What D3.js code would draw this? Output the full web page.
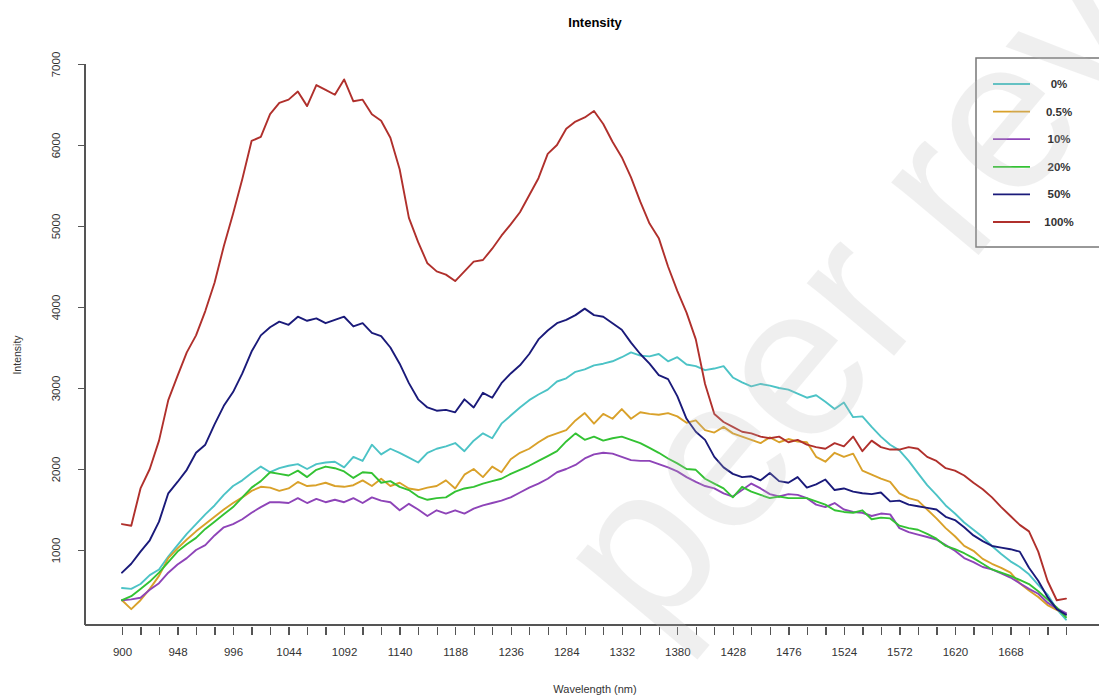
<!DOCTYPE html>
<meta charset="utf-8">
<style>
body { margin: 0; background: #fff; }
text { font-family: "Liberation Sans", Arial, sans-serif; }
.line { fill: none; stroke-width: 1.9; stroke-linejoin: round; stroke-linecap: round; }
.tick line, .frame { stroke: #555; stroke-width: 1.3; shape-rendering: crispEdges; }
</style>
<body>
<div id="chart"></div>
<script src="https://d3js.org/d3.v7.min.js"></script>
<script>
// wavelength grid (nm) and axis ticks
var wavelength = d3.range(900, 1717, 8);
var xTicks = d3.range(900, 1717, 16);
var xLabels = [900, 948, 996, 1044, 1092, 1140, 1188, 1236, 1284, 1332, 1380, 1428, 1476, 1524, 1572, 1620, 1668];
var yTicks = [1000, 2000, 3000, 4000, 5000, 6000, 7000];

var seriesNames = ["0%", "0.5%", "10%", "20%", "50%", "100%"];
var seriesColors = ["#4cc3c6", "#d9a12a", "#8e44b8", "#33c233", "#1a1a7a", "#b0302c"];

// intensity, one value per 8 nm
var s0 = [530,520,580,690,760,920,1060,1200,1320,1440,
  1550,1680,1790,1860,1950,2030,1960,2010,2040,2060,
  2000,2060,2080,2090,2020,2150,2100,2300,2180,2250,
  2200,2140,2080,2200,2250,2280,2320,2220,2350,2440,
  2380,2560,2660,2760,2850,2920,2980,3080,3120,3200,
  3230,3280,3300,3330,3380,3440,3400,3390,3420,3330,
  3380,3290,3270,3220,3240,3270,3130,3070,3020,3050,
  3030,3000,2980,2930,2880,2910,2830,2740,2820,2640,
  2650,2520,2400,2300,2230,2100,1950,1800,1680,1550,
  1450,1340,1250,1160,1050,950,860,790,700,570,
  450,270,140];
var s05 = [380,270,380,520,680,900,1020,1130,1230,1320,
  1410,1500,1580,1650,1730,1780,1770,1730,1760,1840,
  1790,1800,1830,1790,1780,1800,1860,1790,1880,1790,
  1830,1760,1740,1770,1790,1860,1760,1930,2000,1900,
  2030,1960,2120,2200,2250,2330,2400,2440,2480,2600,
  2690,2560,2680,2620,2740,2620,2700,2680,2670,2690,
  2650,2570,2600,2480,2450,2520,2440,2400,2360,2320,
  2390,2330,2370,2340,2330,2150,2090,2200,2150,2190,
  1980,1930,1880,1840,1700,1640,1610,1500,1390,1270,
  1170,1050,990,890,830,780,720,590,500,420,
  320,260,210];
var s10 = [380,390,410,510,590,720,820,900,1000,1060,
  1180,1280,1320,1380,1460,1530,1590,1590,1580,1640,
  1580,1630,1590,1620,1590,1640,1580,1650,1610,1590,
  1490,1570,1500,1420,1490,1450,1490,1450,1510,1550,
  1580,1610,1650,1710,1770,1820,1880,1960,2000,2050,
  2130,2180,2200,2190,2150,2110,2100,2100,2060,2020,
  1970,1900,1840,1790,1760,1700,1660,1740,1820,1760,
  1690,1660,1690,1680,1640,1560,1530,1580,1500,1470,
  1460,1420,1450,1440,1270,1220,1190,1160,1130,1060,
  990,900,850,790,760,710,660,590,520,460,
  350,280,220];
var s20 = [380,430,520,610,720,850,980,1070,1150,1260,
  1350,1440,1530,1650,1770,1850,1960,1940,1920,1980,
  1900,1990,2030,2010,1970,1890,1960,1950,1830,1850,
  1780,1740,1660,1620,1640,1650,1720,1760,1780,1820,
  1850,1880,1940,1990,2040,2100,2160,2220,2340,2440,
  2360,2400,2350,2380,2400,2360,2320,2260,2200,2130,
  2070,2000,1990,1880,1820,1760,1650,1780,1720,1680,
  1640,1660,1640,1640,1640,1600,1560,1490,1470,1460,
  1490,1380,1400,1390,1300,1270,1250,1200,1140,1050,
  1010,960,900,830,760,720,680,630,580,490,
  390,290,170];
var s50 = [720,830,980,1120,1350,1700,1840,1990,2200,2300,
  2550,2780,2950,3180,3450,3650,3750,3820,3780,3880,
  3830,3860,3800,3840,3880,3760,3800,3680,3640,3500,
  3300,3060,2860,2760,2720,2730,2700,2860,2760,2940,
  2880,3060,3180,3280,3420,3600,3710,3800,3840,3900,
  3980,3900,3880,3800,3720,3560,3420,3300,3160,3110,
  2900,2620,2460,2360,2150,2020,1940,1900,1910,1860,
  1950,1850,1830,1900,1770,1810,1870,1740,1760,1720,
  1700,1690,1710,1600,1610,1560,1540,1520,1500,1410,
  1370,1280,1180,1110,1050,1030,1010,980,780,620,
  420,270,200];
var s100 = [1320,1300,1760,2000,2350,2850,3150,3440,3650,3950,
  4300,4750,5150,5580,6050,6100,6380,6520,6560,6660,
  6480,6740,6680,6620,6810,6540,6560,6380,6300,6090,
  5700,5100,4800,4540,4440,4400,4320,4440,4560,4580,
  4720,4880,5020,5170,5380,5590,5890,6000,6200,6290,
  6340,6420,6260,6040,5850,5600,5300,5030,4850,4500,
  4200,3930,3600,3050,2680,2580,2520,2460,2440,2400,
  2380,2400,2330,2360,2300,2270,2250,2320,2280,2400,
  2220,2350,2270,2240,2240,2270,2250,2150,2100,2010,
  1980,1920,1830,1750,1650,1530,1420,1310,1230,980,
  620,380,400];

var series = [s0, s05, s10, s20, s50, s100];

var width = 1099, height = 696;

var svg = d3.select("#chart").append("svg")
    .attr("width", width)
    .attr("height", height);

var x = d3.scaleLinear().domain([900, 1716]).range([122, 1066]);
var y = d3.scaleLinear().domain([0, 7000]).range([631, 64]);
var yBottom = 625;

// frame: left and bottom sides only
svg.append("line").attr("class", "frame")
    .attr("x1", 85).attr("x2", 85)
    .attr("y1", y(7000)).attr("y2", yBottom);
svg.append("line").attr("class", "frame")
    .attr("x1", 85).attr("x2", width)
    .attr("y1", yBottom).attr("y2", yBottom);

// y axis, labels parallel to the axis
var yAxis = svg.append("g")
    .attr("transform", "translate(85,0)")
    .call(d3.axisLeft(y).tickValues(yTicks).tickSize(7).tickFormat(d3.format("d")));
yAxis.select(".domain").remove();
yAxis.selectAll(".tick text")
    .attr("x", null).attr("dy", null)
    .attr("transform", "translate(-25,0) rotate(-90)")
    .attr("text-anchor", "middle")
    .style("font-size", "11.5px").style("fill", "#333");

// x axis, every tick drawn, labels every 48 nm
var xAxis = svg.append("g")
    .attr("transform", "translate(0," + (yBottom + 2) + ")")
    .call(d3.axisBottom(x).tickValues(xTicks).tickSize(8)
        .tickFormat(function(d) { return xLabels.indexOf(d) >= 0 ? d : ""; }));
xAxis.select(".domain").remove();
xAxis.selectAll(".tick text")
    .attr("y", 21)
    .style("font-size", "11.5px").style("fill", "#333");

// titles
svg.append("text")
    .attr("x", 595).attr("y", 27)
    .attr("text-anchor", "middle")
    .style("font-size", "13px").style("font-weight", "bold")
    .text("Intensity");

svg.append("text")
    .attr("x", 595).attr("y", 693)
    .attr("text-anchor", "middle")
    .style("font-size", "11px").style("fill", "#333")
    .text("Wavelength (nm)");

svg.append("text")
    .attr("transform", "translate(21,355) rotate(-90)")
    .attr("text-anchor", "middle")
    .style("font-size", "10.5px").style("fill", "#333")
    .text("Intensity");

// spectra
var line = d3.line()
    .x(function(d, i) { return x(wavelength[i]); })
    .y(function(d) { return y(d); });

svg.selectAll(".line")
    .data(series)
    .enter().append("path")
    .attr("class", "line")
    .attr("d", line)
    .style("stroke", function(d, i) { return seriesColors[i]; });

// legend
var legend = svg.append("g");
legend.append("rect")
    .attr("x", 976).attr("y", 58)
    .attr("width", 140).attr("height", 189)
    .style("fill", "#fff").style("stroke", "#777").style("stroke-width", 1.5);

var item = legend.selectAll(".item")
    .data(seriesNames)
    .enter().append("g")
    .attr("transform", function(d, i) { return "translate(0," + (84 + i * 27.6) + ")"; });

item.append("line")
    .attr("x1", 993).attr("x2", 1030)
    .style("stroke", function(d, i) { return seriesColors[i]; })
    .style("stroke-width", 1.8);

item.append("text")
    .attr("x", 1059).attr("dy", "0.35em")
    .attr("text-anchor", "middle")
    .style("font-size", "11.5px").style("font-weight", "bold").style("fill", "#333")
    .text(function(d) { return d; });

// faint watermark across the plot
svg.append("text")
    .attr("transform", "translate(654,642) rotate(-50)")
    .style("font-size", "215px")
    .style("fill", "#bbb").style("opacity", 0.22)
    .text("peer review");
</script>
</body>
